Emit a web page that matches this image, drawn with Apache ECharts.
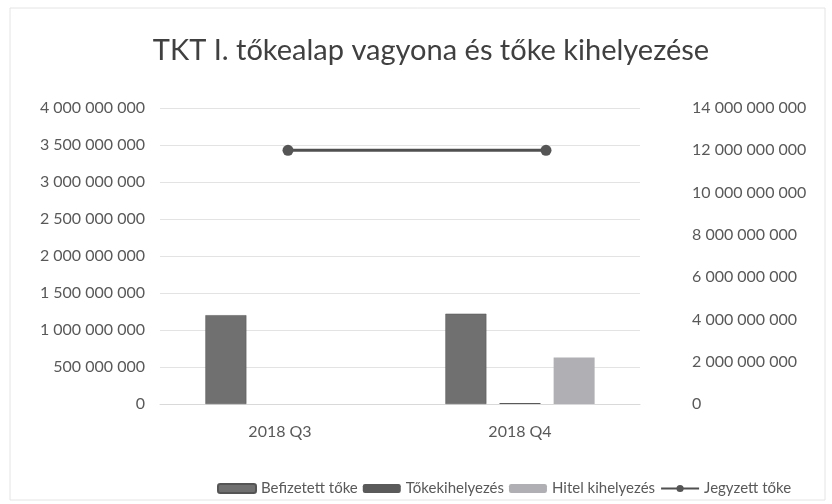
<!DOCTYPE html>
<html><head><meta charset="utf-8">
<script src="https://cdn.jsdelivr.net/npm/echarts@6/dist/echarts.min.js"></script>
<style>html,body{margin:0;padding:0;background:#fff}#c{width:832px;height:504px}</style>
</head><body><div id="c"></div>
<script>
const categories = ['2018 Q3', '2018 Q4'];
const befizetett = [1200000000, 1220000000];
const tokekihelyezes = [0, 15000000];
const hitel = [0, 630000000];
const jegyzett = [12000000000, 12000000000];
const leftTicks = {min: 0, max: 4000000000, interval: 500000000};
const rightTicks = {min: 0, max: 14000000000, interval: 2000000000};

function fmt(v){ return String(Math.round(v)).replace(/\B(?=(\d{3})+(?!\d))/g, ' '); }
const font = 'Lato, "Noto Sans", sans-serif';
const chart = echarts.init(document.getElementById('c'));
chart.setOption({
  backgroundColor: '#fff',
  animation: false,
  textStyle: {fontFamily: font},
  title: {text: 'TKT I. tőkealap vagyona és tőke kihelyezése', left: 426, textAlign: 'center', top: 31,
    textStyle: {fontFamily: font, fontSize: 29, fontWeight: 'normal', color: '#404040'}},
  graphic: [{type: 'rect', shape: {x: 10, y: 8, width: 815, height: 492}, style: {fill: 'none', stroke: '#e4e4e4', lineWidth: 1}, silent: true}],
  legend: {left: 212, top: 476, itemWidth: 38, itemHeight: 9, itemGap: 5,
    textStyle: {fontFamily: font, fontSize: 15, color: '#595959'},
    data: ['Befizetett tőke', 'Tőkekihelyezés', 'Hitel kihelyezés', 'Jegyzett tőke']},
  grid: [{left: 160, right: 192, top: 108, bottom: 100},
         {left: 159, right: 157, top: 108, bottom: 100}],
  xAxis: [{type: 'category', data: categories, gridIndex: 0,
    axisLine: {lineStyle: {color: '#d9d9d9'}}, axisTick: {show: false},
    axisLabel: {fontFamily: font, fontSize: 16, color: '#595959', margin: 20}},
    {type: 'category', data: categories, gridIndex: 1, show: false}],
  yAxis: [{type: 'value', gridIndex: 0, ...leftTicks,
    axisLabel: {formatter: fmt, fontFamily: font, fontSize: 16, color: '#595959', margin: 15},
    splitLine: {lineStyle: {color: '#e3e3e3'}}, axisLine: {show: false}, axisTick: {show: false}},
    {type: 'value', gridIndex: 0, position: 'right', ...rightTicks,
    axisLabel: {formatter: fmt, fontFamily: font, fontSize: 16, color: '#595959', margin: 52},
    splitLine: {show: false}, axisLine: {show: false}, axisTick: {show: false}},
    {type: 'value', gridIndex: 1, ...rightTicks, show: false, splitLine: {show: false}}],
  series: [
    {name: 'Befizetett tőke', type: 'bar', data: befizetett, barWidth: 41, barGap: '32%',
      itemStyle: {color: '#707070', borderColor: '#555', borderWidth: 0.5}},
    {name: 'Tőkekihelyezés', type: 'bar', data: tokekihelyezes, barWidth: 41,
      itemStyle: {color: '#5a5a5a'}},
    {name: 'Hitel kihelyezés', type: 'bar', data: hitel, barWidth: 41,
      itemStyle: {color: '#b0b0b4'}},
    {name: 'Jegyzett tőke', type: 'line', xAxisIndex: 1, yAxisIndex: 2, data: jegyzett,
      symbol: 'circle', symbolSize: 11, lineStyle: {color: '#505050', width: 3},
      itemStyle: {color: '#555'}}
  ]
});
</script></body></html>
